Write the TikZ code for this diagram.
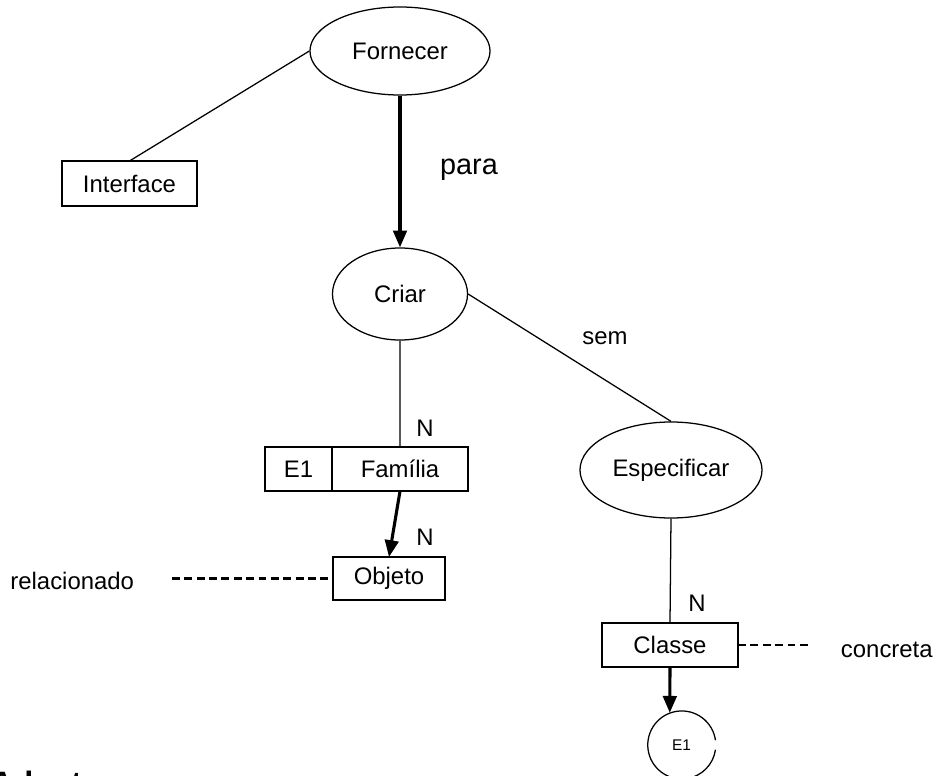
\documentclass[tikz,border=0pt]{standalone}
\usepackage{fontspec}
\setmainfont{Liberation Sans}
\usetikzlibrary{shapes.geometric,arrows.meta,positioning}

\begin{document}
\begin{tikzpicture}[x=0.025cm,y=-0.025cm,
    font=\fontsize{17}{20}\selectfont,
    oval/.style={draw, ellipse, line width=0.9pt, inner sep=0pt},
    caixa/.style={draw, rectangle, line width=0.9pt, inner sep=0pt, outer sep=0pt},
    liga/.style={line width=0.9pt},
    seta/.style={line width=2.2pt, -{Triangle[length=0.42cm,width=0.34cm]}},
    tracejado/.style={line width=1.6pt, dash pattern=on 5.6pt off 3.2pt}]
    \useasboundingbox (0,0) rectangle (943,776);

    % Draw ellipses
    \node[oval, minimum width=4.5cm, minimum height=2.2cm] (fornecer) at (400,51) {Fornecer};
    \node[oval, minimum width=3.375cm, minimum height=2.3cm] (criar) at (400,294) {Criar};
    \node[oval, minimum width=4.55cm, minimum height=2.4cm] (especificar) at (671,470) {Especificar};

    % Draw boxes
    \node[caixa, minimum width=3.375cm, minimum height=1.125cm] (interface) at (129.5,183.5) {Interface};
    \node[caixa, minimum width=1.675cm, minimum height=1.1cm] (e1) at (298.5,469) {E1};
    \node[caixa, minimum width=3.4cm, minimum height=1.1cm, right=0pt of e1] (familia) {Família};
    \node[caixa, minimum width=2.8cm, minimum height=1.075cm] (objeto) at (389,578.5) {Objeto};
    \node[caixa, minimum width=3.4cm, minimum height=1.1cm] (classe) at (670,645) {Classe};

    % Circle E1 (open on the right)
    \node[circle, minimum size=1.7cm, inner sep=0pt, font=\fontsize{11}{13}\selectfont] (circE1) at (681.5,745) {E1};
    \draw[liga] (circE1.8) arc[start angle=8, end angle=352, radius=0.85cm];

    % Connectors
    \draw[liga] (fornecer.west) -- (interface.north);
    \draw[seta] (fornecer.south) -- (criar.north);
    \draw[liga] (criar.east) -- (especificar.north);
    \draw[liga] (criar.south) -- (familia.north);
    \draw[seta] (familia.south) -- (objeto.north);
    \draw[liga] (especificar.south) -- (classe.north);
    \draw[seta] (classe.south) -- (circE1.110);

    % Dashed attributes
    \coordinate (relfim) at (172,578.5);
    \coordinate (concfim) at (808,645);
    \draw[tracejado] (relfim) -- (objeto.west);
    \draw[tracejado] (classe.east) -- (concfim);

    % Labels
    \node (para) at (469,170) {\fontsize{20.5}{24}\selectfont para};
    \node (sem) at (605,338) {sem};
    \node (n1) at (425,428) {N};
    \node (n2) at (425,537) {N};
    \node (n3) at (697,603) {N};
    \node[anchor=east] (relacionado) at (139,581) {relacionado};
    \node[anchor=west] (concreta) at (836,650) {concreta};
    \node[anchor=base west, inner sep=0pt, font=\fontsize{23}{27}\selectfont\bfseries] (titulo) at (-10,794) {Adapter};

\end{tikzpicture}
\end{document}
